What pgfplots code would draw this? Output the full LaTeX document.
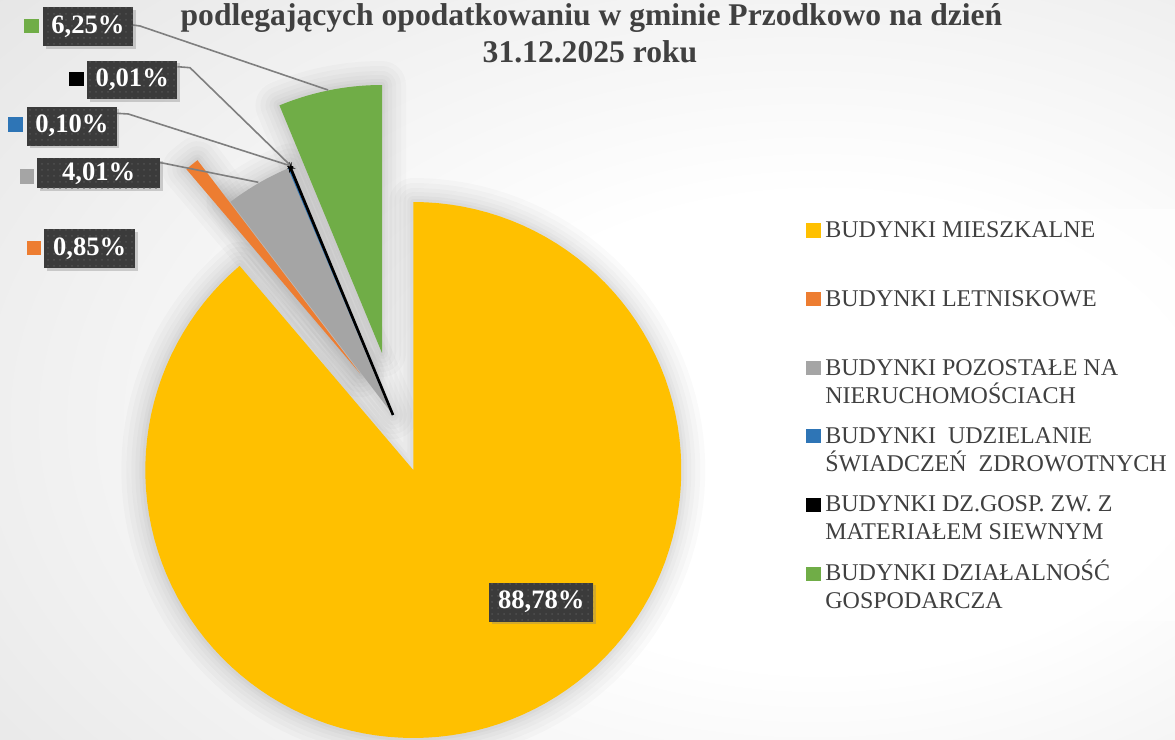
\documentclass[border=0pt]{standalone}
\usepackage{fontspec}
\setmainfont{Liberation Serif}
\usepackage{pgfplots}
\pgfplotsset{compat=1.18}
\usetikzlibrary{shadows,patterns}
\definecolor{cYel}{HTML}{FFC000}
\definecolor{cOra}{HTML}{ED7D31}
\definecolor{cGra}{HTML}{A5A5A5}
\definecolor{cBlu}{HTML}{2E75B6}
\definecolor{cBla}{HTML}{000000}
\definecolor{cGre}{HTML}{70AD47}
\definecolor{txt}{HTML}{404040}
\definecolor{labbg}{HTML}{3B3B3B}
\definecolor{labdot}{HTML}{505050}
\definecolor{lead}{HTML}{7F7F7F}
\definecolor{bgA}{HTML}{E4E4E4}
\definecolor{bgB}{HTML}{C8C8C8}
\pgfdeclareradialshading{bgshade}{\pgfpoint{12bp}{-5bp}}{color(0bp)=(white); color(16bp)=(white); color(45bp)=(bgA); color(75bp)=(bgB); color(100bp)=(bgB)}
\tikzset{
  lab/.style={fill=labbg, text=white, font=\fontsize{13.3}{15}\selectfont\bfseries, inner sep=0pt,
    drop shadow={opacity=0.35, shadow xshift=1.3pt, shadow yshift=-1.3pt},
    postaction={pattern=dots, pattern color=labdot}},
  leg/.style={anchor=base west, text=txt, font=\fontsize{12}{14}\selectfont, inner sep=0pt},
  sq/.style={only marks, mark=square*, mark size=3.4pt, mark options={draw=#1, fill=#1}},
}
% shares in percent
\def\pA{88.78}\def\pB{0.85}\def\pC{4.01}\def\pD{0.10}\def\pE{0.01}\def\pF{6.25}
\pgfmathsetmacro\aA{90-3.6*\pA}
\pgfmathsetmacro\aB{\aA-3.6*\pB}
\pgfmathsetmacro\aC{\aB-3.6*\pC}
\pgfmathsetmacro\aD{\aC-3.6*\pD}
\pgfmathsetmacro\aE{\aD-3.6*\pE}
\pgfmathsetmacro\aF{\aE-3.6*\pF}
\def\R{268}
\newcommand\wedgeplot[5]{%
  \addplot[#1, domain=#4:#5, samples=120, variable=\t] ({#2+\R*cos(\t)},{#3+\R*sin(\t)}) -- (axis cs:#2,#3) -- cycle;}
\newcommand\halo[4]{%
  \wedgeplot{draw=black, draw opacity=0.018, line width=24pt, line join=round}{#1}{#2}{#3}{#4}
  \wedgeplot{draw=black, draw opacity=0.018, line width=19pt, line join=round}{#1}{#2}{#3}{#4}
  \wedgeplot{draw=black, draw opacity=0.02, line width=14pt, line join=round}{#1}{#2}{#3}{#4}
  \wedgeplot{draw=black, draw opacity=0.02, line width=10pt, line join=round}{#1}{#2}{#3}{#4}
  \wedgeplot{draw=black, draw opacity=0.022, line width=6pt, line join=round}{#1}{#2}{#3}{#4}
  \wedgeplot{draw=black, draw opacity=0.022, line width=3pt, line join=round}{#1}{#2}{#3}{#4}}
\begin{document}
\begin{tikzpicture}
\useasboundingbox (0,0) rectangle (587.5pt,370pt);
\begin{axis}[
  at={(0,0)}, anchor=south west,
  width=587.5pt, height=370pt, scale only axis,
  xmin=0, xmax=1175, ymin=0, ymax=740,
  axis lines=none, ticks=none, clip=false,
]
% background
\path[shade, shading=bgshade] (axis cs:0,0) rectangle (axis cs:1175,740);
% legend box
\fill[white, opacity=0.6] (axis cs:795,119) rectangle (axis cs:1175,531);
% halos
\begin{scope}
\clip (axis cs:0,0) rectangle (axis cs:1175,740);
\halo{413.3}{270}{\aA}{90}
\halo{360}{366.7}{\aB}{\aA}
\halo{393}{325}{\aE}{\aB}
\halo{382}{387}{\aF}{\aE}
\end{scope}
% slices
\wedgeplot{fill=cYel, draw=none}{413.3}{270}{\aA}{90}
\wedgeplot{fill=cOra, draw=none}{360}{366.7}{\aB}{\aA}
\wedgeplot{fill=cGra, draw=none}{393}{325}{\aC}{\aB}
\wedgeplot{fill=cBlu, draw=cBlu, line width=0.7pt}{393}{325}{\aD}{\aC}
\wedgeplot{fill=cBla, draw=cBla, line width=1.3pt}{393}{325}{\aE}{\aD}
\wedgeplot{fill=cGre, draw=none}{382}{387}{\aF}{\aE}
% leader lines
\addplot[lead, line width=0.8pt] coordinates {(133,715) (140,714) (328,650)};
\addplot[lead, line width=0.8pt] coordinates {(177.3,673.3) (190,672.3) (290,575)};
\addplot[lead, line width=0.8pt] coordinates {(116.7,626.7) (128.3,626) (290,574.3)};
\addplot[lead, line width=0.8pt] coordinates {(160,577.3) (164,576.7) (258.3,557.7)};
% data labels
\node[lab, minimum width=45pt, minimum height=19.5pt] at (axis cs:88,713.5) {6,25\%};
\node[lab, minimum width=45pt, minimum height=19.3pt] at (axis cs:132.3,660) {0,01\%};
\node[lab, minimum width=44.7pt, minimum height=19.5pt] at (axis cs:72,613.8) {0,10\%};
\node[lab, minimum width=61.4pt, minimum height=15pt] at (axis cs:98.7,566.7) {4,01\%};
\node[lab, minimum width=45.3pt, minimum height=19.5pt] at (axis cs:89.7,491.2) {0,85\%};
\node[lab, minimum width=52pt, minimum height=19.5pt] at (axis cs:541.3,137.8) {88,78\%};
\addplot[sq=cGre] coordinates {(31.5,714)};
\addplot[sq=cBla] coordinates {(76.5,661)};
\addplot[sq=cBlu] coordinates {(15.5,615.5)};
\addplot[sq=cGra] coordinates {(27,563.5)};
\addplot[sq=cOra] coordinates {(34,492)};
% legend
\addplot[sq=cYel] coordinates {(813.3,509.5)};
\addplot[sq=cOra] coordinates {(813.3,441)};
\addplot[sq=cGra] coordinates {(813.3,372)};
\addplot[sq=cBlu] coordinates {(813.3,304)};
\addplot[sq=cBla] coordinates {(813.3,235)};
\addplot[sq=cGre] coordinates {(813.3,166)};
\node[leg] at (axis cs:825,502.5) {BUDYNKI MIESZKALNE};
\node[leg] at (axis cs:825,433.5) {BUDYNKI LETNISKOWE};
\node[leg] at (axis cs:825,364.5) {BUDYNKI POZOSTAŁE NA};
\node[leg] at (axis cs:825,336.5) {NIERUCHOMOŚCIACH};
\node[leg] at (axis cs:825,296.5) {BUDYNKI\ \ UDZIELANIE};
\node[leg] at (axis cs:825,268.5) {ŚWIADCZEŃ\ \ ZDROWOTNYCH};
\node[leg] at (axis cs:825,228) {BUDYNKI DZ.GOSP. ZW. Z};
\node[leg] at (axis cs:825,200) {MATERIAŁEM SIEWNYM};
\node[leg] at (axis cs:825,159) {BUDYNKI DZIAŁALNOŚĆ};
\node[leg] at (axis cs:825,131) {GOSPODARCZA};
% title
\node[anchor=base, text=txt, font=\fontsize{15.8}{19}\selectfont\bfseries, inner sep=0pt] at (axis cs:591.5,714) {podlegających opodatkowaniu w gminie Przodkowo na dzień};
\node[anchor=base, text=txt, font=\fontsize{15.8}{19}\selectfont\bfseries, inner sep=0pt] at (axis cs:590,677) {31.12.2025 roku};
\end{axis}
\end{tikzpicture}
\end{document}
